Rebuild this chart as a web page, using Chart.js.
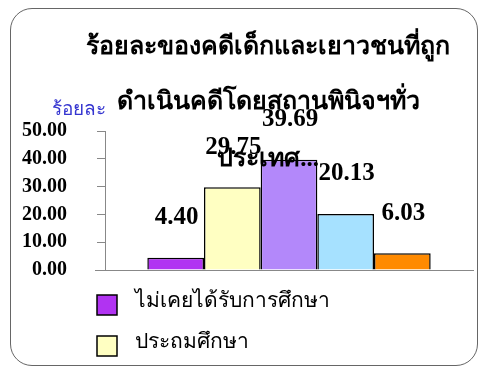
<!DOCTYPE html>
<html>
<head>
<meta charset="utf-8">
<script src="https://cdn.jsdelivr.net/npm/chart.js@4.4.0/dist/chart.umd.min.js"></script>
<style>
  html, body { margin: 0; padding: 0; background: #fff; }
  #wrap { position: relative; width: 482px; height: 367px; overflow: hidden; }
  #frame {
    position: absolute; left: 10px; top: 8px; width: 466px; height: 356px;
    border: 1px solid #666; border-radius: 22px; pointer-events: none;
  }
  canvas { position: absolute; left: 0; top: 0; }
</style>
</head>
<body>
<div id="wrap">
  <div id="frame"></div>
  <canvas id="chart" width="482" height="367"></canvas>
</div>
<script>
const titleLines = ["ร้อยละของคดีเด็กและเยาวชนที่ถูก", "ดำเนินคดีโดยสถานพินิจฯทั่ว", "ประเทศ..."];
const yAxisTitle = "ร้อยละ";
const categories = [""];
const seriesLabels = ["ไม่เคยได้รับการศึกษา", "ประถมศึกษา", "มัธยมศึกษาตอนต้น", "มัธยมศึกษาตอนปลาย", "อุดมศึกษา"];
const seriesValues = [4.40, 29.75, 39.69, 20.13, 6.03];
const seriesColors = ["#b133f2", "#ffffc2", "#b388fa", "#a6e1ff", "#ff8a00"];
const yTicks = [0, 10, 20, 30, 40, 50];

const SERIF = "'Liberation Serif', 'Times New Roman', serif";

// Values above bars, title lines, axis caption and the vertical legend
const overlayPlugin = {
  id: "overlay",
  afterDatasetsDraw(chart) {
    const ctx = chart.ctx;
    ctx.save();
    ctx.fillStyle = "#000";
    ctx.textAlign = "center";
    ctx.textBaseline = "middle";
    ctx.font = "bold 25px " + SERIF;
    chart.data.datasets.forEach((ds, i) => {
      const bar = chart.getDatasetMeta(i).data[0];
      ctx.fillText(ds.data[0].toFixed(2), bar.x + 1, bar.y - 40);
    });

    ctx.font = "bold 25px " + SERIF;
    const tops = [48, 103, 160];
    titleLines.forEach((t, i) => ctx.fillText(t, 268, tops[i]));

    ctx.fillStyle = "#3535d0";
    ctx.font = "19px " + SERIF;
    ctx.textAlign = "left";
    ctx.fillText(yAxisTitle, 52, 110);

    // x axis line runs a little past the y axis
    const area = chart.chartArea;
    ctx.strokeStyle = "#888";
    ctx.lineWidth = 1;
    ctx.beginPath();
    ctx.moveTo(95, Math.round(area.bottom) + 0.5);
    ctx.lineTo(area.left, Math.round(area.bottom) + 0.5);
    ctx.stroke();

    // legend, one item per line
    ctx.font = "21px " + SERIF;
    ctx.textBaseline = "middle";
    chart.data.datasets.forEach((ds, i) => {
      const cy = 305 + i * 41;
      ctx.fillStyle = ds.backgroundColor;
      ctx.fillRect(97, cy - 10, 20, 20);
      ctx.strokeStyle = "#000";
      ctx.lineWidth = 1.5;
      ctx.strokeRect(97, cy - 10, 20, 20);
      ctx.fillStyle = "#000";
      ctx.fillText(ds.label, 135, cy - 4);
    });
    ctx.restore();
  }
};

const datasets = seriesLabels.map((label, i) => ({
  label: label,
  data: [seriesValues[i]],
  backgroundColor: seriesColors[i],
  borderColor: "#000",
  borderWidth: 1.5,
  barPercentage: 1.0,
  categoryPercentage: 0.77
}));

new Chart(document.getElementById("chart"), {
  type: "bar",
  data: { labels: categories, datasets: datasets },
  options: {
    responsive: false,
    animation: false,
    layout: { padding: { left: 10, top: 131, right: 9, bottom: 97 } },
    plugins: {
      legend: { display: false },
      title: { display: false },
      tooltip: { enabled: false }
    },
    scales: {
      x: {
        afterFit(scale) { scale.height = 0; },
        ticks: { display: false },
        grid: { display: false },
        border: { display: true, color: "#888" }
      },
      y: {
        min: 0,
        max: 50,
        afterFit(scale) { scale.width = 95; },
        afterBuildTicks(scale) { scale.ticks = yTicks.map(v => ({ value: v })); },
        ticks: {
          padding: 30,
          color: "#000",
          font: { family: SERIF, size: 20, weight: "bold" },
          callback: (v) => Number(v).toFixed(2)
        },
        grid: { drawOnChartArea: false, tickLength: 8, color: "#888" },
        border: { display: true, color: "#888" }
      }
    }
  },
  plugins: [overlayPlugin]
});
</script>
</body>
</html>
